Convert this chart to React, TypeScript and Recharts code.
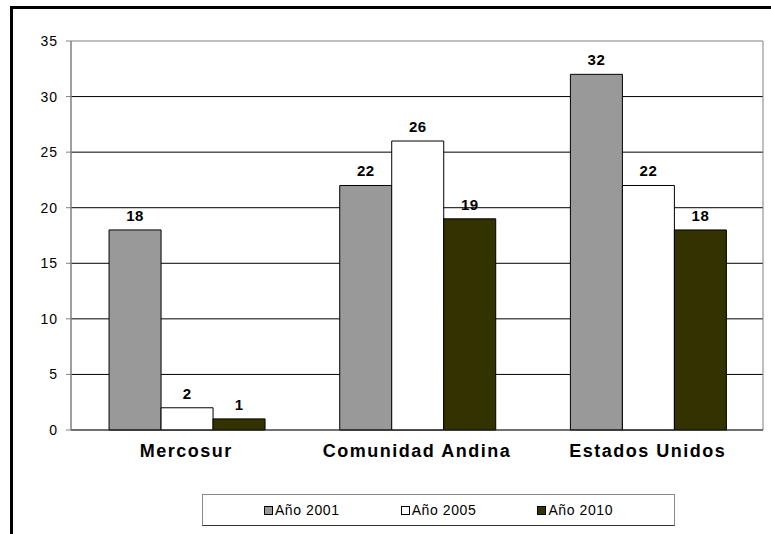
import { BarChart, Bar, XAxis, YAxis, CartesianGrid, ReferenceArea, LabelList } from 'recharts';

const categories = ['Mercosur', 'Comunidad Andina', 'Estados Unidos'];
const anio2001 = [18, 22, 32];
const anio2005 = [2, 26, 22];
const anio2010 = [1, 19, 18];
const yTicks = [0, 5, 10, 15, 20, 25, 30, 35];

const series = [
  { key: 'a2001', name: 'Año 2001', values: anio2001, color: '#999999' },
  { key: 'a2005', name: 'Año 2005', values: anio2005, color: '#ffffff' },
  { key: 'a2010', name: 'Año 2010', values: anio2010, color: '#333300' },
];

const FONT = '"Liberation Sans", Arial, sans-serif';

export default function App() {
  const data = categories.map((name, i) => {
    const row: Record<string, string | number> = { name };
    series.forEach((s) => {
      row[s.key] = s.values[i];
    });
    return row;
  });

  return (
    <div
      style={{
        position: 'absolute',
        left: 0,
        top: 0,
        width: 771,
        height: 534,
        overflow: 'hidden',
        background: '#fff',
        fontFamily: FONT,
      }}
    >
      {/* outer frame, right and bottom edges fall off the picture */}
      <div
        style={{
          position: 'absolute',
          left: 10,
          top: 6,
          width: 800,
          height: 600,
          borderLeft: '3px solid #000',
          borderTop: '3px solid #000',
        }}
      />
      <div style={{ position: 'absolute', left: 0, top: 0 }}>
        <BarChart
          width={771}
          height={534}
          data={data}
          margin={{ top: 41, right: 8, left: 0, bottom: 74 }}
          barCategoryGap="16.5%"
          barGap={0}
        >
          <ReferenceArea y1={0} y2={35} stroke="#808080" strokeWidth={1} fill="#fff" fillOpacity={0} ifOverflow="visible" />
          <CartesianGrid
            vertical={false}
            horizontalValues={[5, 10, 15, 20, 25, 30]}
            stroke="#000"
            strokeWidth={1}
          />
          <XAxis
            dataKey="name"
            axisLine={{ stroke: '#222' }}
            tickLine={false}
            tickMargin={8}
            height={30}
            tick={{ fill: '#000', fontSize: 18, fontWeight: 700, fontFamily: FONT, letterSpacing: 1.5 }}
          />
          <YAxis
            width={71}
            domain={[0, 35]}
            ticks={yTicks}
            interval={0}
            axisLine={{ stroke: '#808080' }}
            tickLine={{ stroke: '#808080' }}
            tickSize={5}
            tickMargin={8}
            tick={{ fill: '#000', fontSize: 14, fontFamily: FONT, letterSpacing: 1 }}
          />
          {series.map((s) => (
            <Bar
              key={s.key}
              dataKey={s.key}
              name={s.name}
              fill={s.color}
              stroke="#000"
              strokeWidth={1}
              isAnimationActive={false}
            >
              <LabelList
                dataKey={s.key}
                position="top"
                offset={9}
                fill="#000"
                fontSize={15}
                fontWeight={700}
                fontFamily={FONT}
                letterSpacing={0.5}
              />
            </Bar>
          ))}
        </BarChart>
      </div>
      {/* legend box */}
      <div
        style={{
          position: 'absolute',
          left: 202,
          top: 494,
          width: 471,
          height: 30,
          borderTop: '1px solid #8a8a8a',
          borderLeft: '1px solid #8a8a8a',
          borderRight: '1px solid #8a8a8a',
          borderBottom: '1px solid #333',
          display: 'flex',
          alignItems: 'center',
          justifyContent: 'center',
          gap: 61,
          fontSize: 14,
          letterSpacing: 0.6,
          color: '#000',
        }}
      >
        {series.map((s) => (
          <span key={s.key} style={{ display: 'flex', alignItems: 'center', gap: 2 }}>
            <span
              style={{
                display: 'inline-block',
                width: 7,
                height: 7,
                border: '1px solid #000',
                background: s.color,
              }}
            />
            {s.name}
          </span>
        ))}
      </div>
    </div>
  );
}
